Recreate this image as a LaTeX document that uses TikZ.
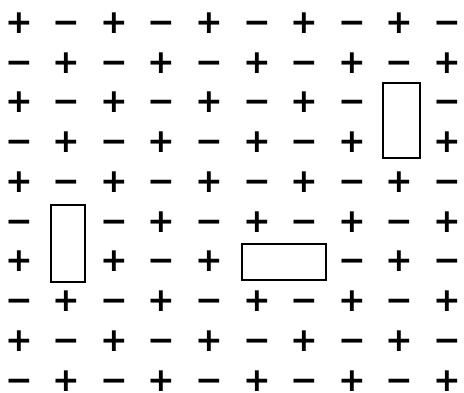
\documentclass[tikz,border=0pt]{standalone}
\usepackage{fontspec}
\setmainfont{DejaVu Sans}
\begin{document}
\begin{tikzpicture}[x=1pt,y=-1pt,
  sym/.style={inner sep=0pt, anchor=center, font=\fontsize{33}{33}\selectfont\bfseries},
  domino/.style={draw, line width=2.2pt, inner sep=0pt}]
\useasboundingbox (0,0) rectangle (464,392);
\foreach \r in {0,...,9}{
  \foreach \c in {0,...,9}{
    \pgfmathtruncatemacro\cov{((\r==2)&&(\c==8))||((\r==3)&&(\c==8))||((\r==5)&&(\c==1))||((\r==6)&&(\c==1))||((\r==6)&&(\c==5))||((\r==6)&&(\c==6))}
    \pgfmathtruncatemacro\parity{mod(\r+\c,2)}
    \pgfmathsetmacro\xx{19+47.6*\c}
    \pgfmathsetmacro\yy{23+39.75*\r}
    \ifnum\cov=0
      \ifnum\parity=0
        \node[sym] (s-\r-\c) at (\xx,\yy) {\vphantom{+}+};
      \else
        \node[sym] (s-\r-\c) at (\xx,\yy) {\vphantom{+}−};
      \fi
    \fi
  }
}
\node[domino, minimum width=37pt, minimum height=75pt] (d1) at (401.5,120.5) {};
\node[domino, minimum width=34pt, minimum height=77pt] (d2) at (68,243.5) {};
\node[domino, minimum width=84pt, minimum height=36pt] (d3) at (284,262) {};
\end{tikzpicture}
\end{document}
